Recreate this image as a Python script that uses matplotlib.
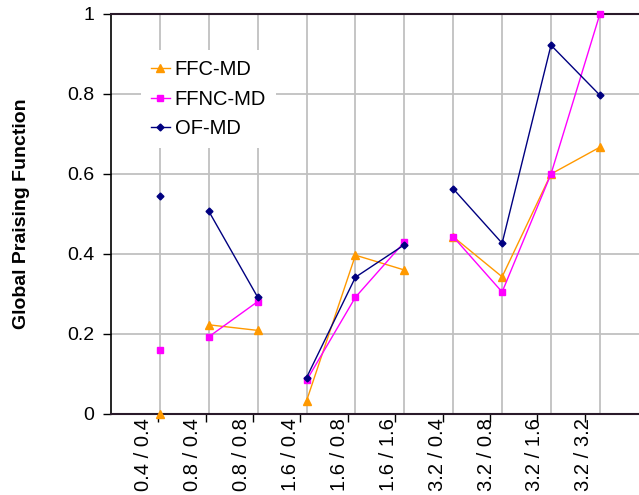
import matplotlib
matplotlib.use("Agg")
import matplotlib.pyplot as plt
import matplotlib.transforms as mtransforms
from matplotlib.ticker import FuncFormatter
import numpy as np

plt.rcParams['font.family'] = ['Liberation Sans', 'DejaVu Sans']

labels = ["0.4 / 0.4", "0.8 / 0.4", "0.8 / 0.8", "1.6 / 0.4", "1.6 / 0.8",
          "1.6 / 1.6", "3.2 / 0.4", "3.2 / 0.8", "3.2 / 1.6", "3.2 / 3.2"]
ffc_md = [0.0, 0.223, 0.209, 0.033, 0.397, 0.360, 0.443, 0.343, 0.600, 0.667]
ffnc_md = [0.161, 0.193, 0.281, 0.084, 0.292, 0.430, 0.443, 0.305, 0.600, 1.0]
of_md = [0.546, 0.507, 0.292, 0.091, 0.342, 0.423, 0.563, 0.427, 0.922, 0.797]

x = np.arange(1, len(labels) + 1)
# lines only join points sharing the same first value
prefix = [l.split("/")[0].strip() for l in labels]
groups = []
for i, p in enumerate(prefix):
    if i == 0 or p != prefix[i - 1]:
        groups.append([i])
    else:
        groups[-1].append(i)

fig = plt.figure(figsize=(6.39, 4.95), dpi=100)
ax = fig.add_axes([111 / 639, 81 / 495, 528 / 639, 400 / 495])

series = [
    ("FFC-MD", ffc_md, "#FF9900", "^", 5.5),
    ("FFNC-MD", ffnc_md, "#FF00FF", "s", 5),
    ("OF-MD", of_md, "#000080", "D", 3.5),
]
for name, vals, col, mk, ms in series:
    vals = np.array(vals)
    for j, g in enumerate(groups):
        ax.plot(x[g], vals[g], color=col, marker=mk, markersize=ms, lw=1.0,
                clip_on=False, zorder=3, label=name if j == 0 else None)

ax.set_xlim(0, 10.8)
ax.set_ylim(0, 1)
ax.set_yticks(np.arange(0, 1.01, 0.2))
ax.yaxis.set_major_formatter(FuncFormatter(lambda v, p: "%g" % round(v, 1)))
ax.set_xticks(x)
ax.set_xticklabels(labels, rotation=90)
ax.set_xticks(np.arange(1, 11) * 0.969, minor=True)

ax.grid(True, which="major", color="#c0c0c0", lw=1.3, zorder=0)
ax.set_axisbelow(True)
ax.tick_params(axis="x", which="major", length=0, labelsize=14.5, pad=3)
ax.tick_params(axis="x", which="minor", length=6, width=1, color="black",
               direction="out")
ax.tick_params(axis="y", length=6, width=1, direction="out", labelsize=14, pad=6)

shift = mtransforms.ScaledTranslation(-16 / 100, 0, fig.dpi_scale_trans)
for lbl in ax.get_xticklabels():
    lbl.set_transform(lbl.get_transform() + shift)

ax.spines["right"].set_visible(False)
ax.spines["left"].set_color("black")
ax.spines["left"].set_linewidth(1.2)
for s in ("top", "bottom"):
    ax.spines[s].set_color("#2a1a2a")
    ax.spines[s].set_linewidth(1.5)

ax.legend(loc="upper left", bbox_to_anchor=(0.0563, 0.909), borderaxespad=0,
          frameon=True, facecolor="white", edgecolor="none", framealpha=1,
          fancybox=False, fontsize=14.5, handlelength=0.93, handletextpad=0.25,
          labelspacing=0.52, borderpad=0.5)

fig.text(22 / 639, 1 - 214 / 495, "Global Praising Function", rotation=90,
         ha="center", va="center", fontsize=14, fontweight="bold")

fig.savefig("out.png", dpi=100)
